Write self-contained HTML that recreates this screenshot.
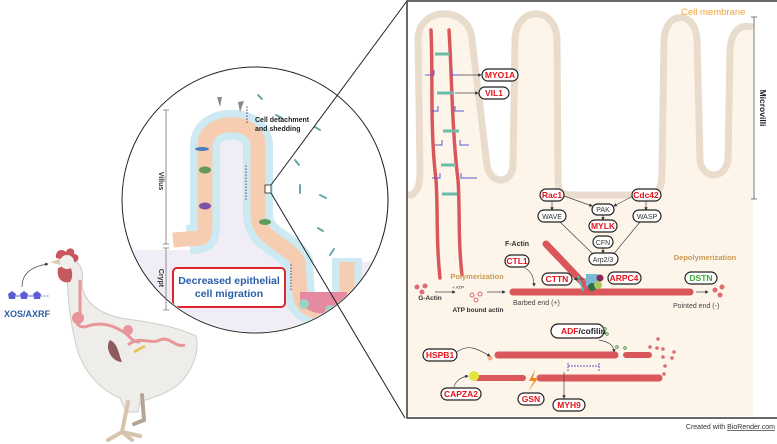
<!DOCTYPE html>
<html><head><meta charset="utf-8"><style>
html,body{margin:0;padding:0;background:#fff;}
svg{display:block;font-family:"Liberation Sans",sans-serif;}
.pill{fill:#fff;stroke:#222;stroke-width:1.2;}
.rt{fill:#e8121b;font-weight:bold;font-size:8.5px;text-anchor:middle;}
.gt{fill:#333;font-size:7px;text-anchor:middle;}
.fil{stroke:#d9575b;stroke-linecap:round;fill:none;}
.ar{stroke:#444;stroke-width:0.7;fill:none;marker-end:url(#ah);}
</style></head><body>
<svg width="777" height="444" viewBox="0 0 777 444">
<defs>
<marker id="ah" markerWidth="5" markerHeight="5" refX="4" refY="2.5" orient="auto"><path d="M0,0L5,2.5L0,5z" fill="#333"/></marker>
</defs>
<!-- chicken -->
<path d="M68,262 C80,258 84,270 82,285 C84,300 95,312 120,318 C150,322 175,326 196,336 C200,352 192,372 178,385 C165,395 150,398 140,402 L138,412 L126,412 L120,398 C100,390 82,370 76,345 C70,320 66,290 68,262 Z" fill="#eeede9" stroke="#cfcdc8" stroke-width="1"/>
<path d="M128,402 L122,432 L108,440 M122,432 L132,440 M122,432 L140,436" stroke="#d8c3ad" stroke-width="4" fill="none" stroke-linecap="round"/>
<path d="M142,395 L144,420 L134,424" stroke="#b5a597" stroke-width="4" fill="none" stroke-linecap="round"/>
<path d="M56,258 C55,250 62,248 66,252 C68,246 76,248 74,254 C80,254 80,262 74,262 Z" fill="#c9565a"/>
<path d="M58,268 C56,278 62,284 70,282 C74,276 72,268 68,264 Z" fill="#c45a5e"/>
<circle cx="67" cy="262" r="7" fill="#f0efec"/>
<path d="M50,262 L60,259 L60,265 Z" fill="#e0cbb0"/>
<path d="M80,280 L80,312 C72,320 78,330 88,326 C100,322 112,325 120,330 C130,334 130,342 140,342" stroke="#e8969a" stroke-width="3" fill="none"/>
<circle cx="78" cy="318" r="6" fill="#e8969a"/>
<circle cx="128" cy="330" r="5" fill="#e8969a"/>
<path d="M110,340 C104,348 112,362 122,362 C118,352 118,344 110,340 Z" fill="#8e5a5e"/>
<path d="M128,345 C140,335 150,345 160,340 C170,336 175,348 185,345" stroke="#e8969a" stroke-width="3" fill="none"/>
<path d="M134,352 L145,346" stroke="#e8c050" stroke-width="2.5"/>
<!-- XOS -->
<g fill="#5b5bd6">
<path d="M8,294 L12,291 L16,294 L15,299 L9,299Z"/><path d="M20,294 L24,291 L28,294 L27,299 L21,299Z"/><path d="M33,294 L37,291 L41,294 L40,299 L34,299Z"/>
</g>
<path d="M16,296 L20,296 M28,296 L33,296" stroke="#5b5bd6"/>
<path d="M41,296 L50,296" stroke="#5b5bd6" stroke-dasharray="1.5,1.5"/>
<text x="4" y="317" font-size="9" font-weight="bold" fill="#2b5ea8">XOS/AXRF</text>
<path d="M22,287 C22,272 34,266 48,264" class="ar"/>
<!-- circle -->
<circle cx="255" cy="200" r="133" fill="#fff" stroke="#222" stroke-width="1"/>
<clipPath id="cc"><circle cx="255" cy="200" r="132"/></clipPath>
<g clip-path="url(#cc)">
<path d="M120,246 L198,246 L198,145 C198,110 265,110 265,145 L265,215 C265,235 290,245 298,262 L300,295 C302,318 345,318 347,295 L347,262 L390,262 L390,340 L120,340 Z" fill="#f1edf7"/>
<path d="M188,240 L200,238 Q205,238 205,225 L205,145 C205,118 258,118 258,145 L258,215 C258,240 290,245 298,262 L300,295 C302,318 345,318 347,295 L347,258" fill="none" stroke="#cdeaf3" stroke-width="30"/>
<path d="M120,238 L190,238 L190,258 L120,258 Z" fill="#fff"/>
<path d="M120,250 L190,250 L190,340 L120,340 Z" fill="#f1edf7"/>
<path d="M173,240 L200,238 Q205,238 205,225 L205,145 C205,118 258,118 258,145 L258,215 C258,240 290,245 298,262 L300,295 C302,318 345,318 347,295 L347,262" fill="none" stroke="#f6cdb0" stroke-width="15"/>
<path d="M300,300 C305,318 342,318 347,300 L347,292 L300,292 Z" fill="#e58aa0"/>
<circle cx="304" cy="304" r="5" fill="#9ad3c3"/><circle cx="330" cy="310" r="5" fill="#9ad3c3"/>
<ellipse cx="205" cy="170" rx="6" ry="3.5" fill="#5e9c5e"/>
<ellipse cx="205" cy="206" rx="6" ry="3.5" fill="#7b55a8"/>
<ellipse cx="202" cy="149" rx="7" ry="2" fill="#4a7cc0"/>
<ellipse cx="265" cy="222" rx="6" ry="3" fill="#5e9c5e"/>
<path d="M217,97 L222,97 L220,107 Z M238,102 L244,101 L240,112 Z" fill="#8a8a8a"/>
<path d="M247,123 L247,106" stroke="#7b2c6a" stroke-dasharray="1.5,1.5"/>
<path d="M246,200 L246,165" stroke="#7b2c6a" stroke-dasharray="1.5,1.5"/>
<path d="M291,290 L291,263" stroke="#7b2c6a" stroke-dasharray="1.5,1.5"/>
<g stroke="#6aa8a8" stroke-width="2" stroke-linecap="round">
<path d="M276,115 l6,3"/><path d="M315,127 l5,3"/><path d="M295,160 l4,5"/><path d="M320,195 l6,3"/><path d="M300,185 l0,8"/><path d="M318,228 l5,3"/><path d="M330,255 l4,-6"/><path d="M258,95 l4,4"/>
</g>
<rect x="173" y="268" width="112" height="39" rx="4" fill="#fff" stroke="#e0262a" stroke-width="2"/>
<text x="229" y="284" font-size="10.5" font-weight="bold" fill="#2b5ea8" text-anchor="middle">Decreased  epithelial</text>
<text x="229" y="297" font-size="10.5" font-weight="bold" fill="#2b5ea8" text-anchor="middle">cell migration</text>
</g>
<text x="255" y="122" font-size="7" font-weight="bold" fill="#222">Cell detachment</text>
<text x="255" y="131" font-size="7" font-weight="bold" fill="#222">and shedding</text>
<path d="M166,110 L166,244 M163,110 L169,110 M163,244 L169,244 M166,248 L166,310 M163,248 L169,248 M163,310 L169,310" stroke="#777" stroke-width="0.8"/>
<text transform="translate(159,181) rotate(90)" font-size="7" font-weight="bold" fill="#333" text-anchor="middle">Villus</text>
<text transform="translate(159,278) rotate(90)" font-size="7" font-weight="bold" fill="#333" text-anchor="middle">Crypt</text>
<rect x="265" y="185" width="6" height="8" fill="#fff" stroke="#222" stroke-width="0.8"/>
<path d="M271,185 L407,1 M271,193 L405,418" stroke="#222" stroke-width="1"/>
<!-- right panel -->
<rect x="407" y="1" width="372" height="417" fill="#fff" stroke="#444" stroke-width="1.6"/>
<path d="M408,418 L408,195 L412,195 C418,190 420,185 420,170 L418,40 C418,5 470,5 472,40 L487,165 C490,185 512,185 513,165 L515,40 C516,5 556,5 557,40 L558,175 C558,195 560,195 580,195 L640,195 C660,195 662,190 662,170 L664,40 C665,10 696,10 697,40 L700,160 C702,180 725,180 728,160 L730,50 C732,25 745,25 753,27 L753,416 L408,416 Z" fill="#fdf5ea"/>
<path d="M408,195 L412,195 C418,190 420,185 420,170 L418,40 C418,5 470,5 472,40 L487,165 C490,185 512,185 513,165 L515,40 C516,5 556,5 557,40 L558,175 C558,195 560,195 580,195 L640,195 C660,195 662,190 662,170 L664,40 C665,10 696,10 697,40 L700,160 C702,180 725,180 728,160 L730,50 C732,25 745,25 753,27" fill="none" stroke="#eadccc" stroke-width="7"/>
<text x="681" y="15" font-size="9.5" fill="#f0a33a">Cell  membrane</text>
<path d="M754,17 L754,199 M751,17 L757,17 M751,199 L757,199" stroke="#555" stroke-width="0.8"/>
<text transform="translate(760,108) rotate(90)" font-size="8.5" font-weight="bold" fill="#222" text-anchor="middle">Microvilli</text>
<!-- microvillus actin -->
<path d="M431,30 C433,80 430,130 436,180 C438,210 436,240 440,278" class="fil" stroke-width="3.5" stroke-dasharray="2,0.8"/>
<path d="M449,30 C452,80 452,130 458,180 C460,210 458,240 462,275" class="fil" stroke-width="3.5" stroke-dasharray="2,0.8"/>
<g stroke="#6cbcaa" stroke-width="3"><path d="M435,54 L450,54"/><path d="M437,93 L454,93"/><path d="M443,131 L459,131"/><path d="M441,165 L456,165"/><path d="M442,194 L457,194"/></g>
<g stroke="#5a5ad0" stroke-width="1" fill="none"><path d="M425,75 L434,75 L434,70"/><path d="M452,70 L452,75 L460,75"/><path d="M432,111 L438,111 L438,106"/><path d="M455,106 L455,111 L464,111"/><path d="M435,145 L442,145 L442,140"/><path d="M460,140 L460,145 L469,145"/><path d="M432,178 L440,178 L440,173"/><path d="M461,173 L461,178 L477,178"/></g>
<path d="M460,75 L481,75" class="ar"/><path d="M455,93 L478,93" class="ar"/>
<rect x="482" y="69" width="36" height="12" rx="6" class="pill"/><text x="500" y="78" class="rt">MYO1A</text>
<rect x="479" y="87" width="30" height="12" rx="6" class="pill"/><text x="494" y="96" class="rt">VIL1</text>
<!-- signaling -->
<path d="M552,201 L552,210" class="ar"/><path d="M646,201 L646,210" class="ar"/>
<path d="M564,196 L592,206" class="ar"/><path d="M633,196 L614,206" class="ar"/>
<path d="M603,215 L603,220" class="ar"/>
<path d="M560,222 L595,256" class="ar"/><path d="M640,222 L612,256" class="ar"/>
<path d="M603,248 L603,253" class="ar"/>
<rect x="540" y="189" width="24" height="12" rx="6" class="pill"/><text x="552" y="198" class="rt">Rac1</text>
<rect x="632" y="189" width="29" height="12" rx="6" class="pill"/><text x="646" y="198" class="rt">Cdc42</text>
<rect x="592" y="204" width="22" height="11" rx="5.5" class="pill"/><text x="603" y="212" class="gt">PAK</text>
<rect x="538" y="210" width="28" height="12" rx="6" class="pill"/><text x="552" y="219" class="gt">WAVE</text>
<rect x="633" y="210" width="28" height="12" rx="6" class="pill"/><text x="647" y="219" class="gt">WASP</text>
<rect x="589" y="220" width="28" height="12" rx="6" class="pill"/><text x="603" y="229" class="rt">MYLK</text>
<rect x="593" y="236" width="20" height="12" rx="6" class="pill"/><text x="603" y="245" class="gt">CFN</text>
<rect x="589" y="253" width="29" height="12" rx="6" class="pill"/><text x="603" y="262" class="gt">Arp2/3</text>
<text x="517" y="246" font-size="7" font-weight="bold" fill="#333" text-anchor="middle">F-Actin</text>
<path d="M546,244 L588,288" class="fil" stroke-width="7" stroke-dasharray="3,1"/>
<path d="M513,292 L690,292" class="fil" stroke-width="7" stroke-dasharray="3,1"/>
<rect x="586" y="274" width="12" height="12" fill="#7ab8d6"/><circle cx="592" cy="287" r="4" fill="#2f6e4f"/><circle cx="598" cy="285" r="4" fill="#a8c85a"/><circle cx="600" cy="278" r="3.5" fill="#8a2a5a"/>
<path d="M578,276 L583,291" stroke="#3fd0d0" stroke-width="1.5"/>
<rect x="505" y="255" width="24" height="12" rx="6" class="pill"/><text x="517" y="264" class="rt">CTL1</text>
<path d="M525,268 C532,272 534,278 534,286" class="ar"/>
<rect x="542" y="273" width="30" height="12" rx="6" class="pill"/><text x="557" y="282" class="rt">CTTN</text>
<path d="M586,279 L574,279" class="ar"/>
<rect x="608" y="272" width="33" height="12" rx="6" class="pill"/><text x="624" y="281" class="rt">ARPC4</text>
<text x="477" y="279" font-size="7.5" font-weight="bold" fill="#c89a55" text-anchor="middle">Polymerization</text>
<text x="705" y="260" font-size="7.5" font-weight="bold" fill="#c89a55" text-anchor="middle">Depolymerization</text>
<rect x="685" y="272" width="32" height="12" rx="6" class="pill"/><text x="701" y="281" font-size="8.5" font-weight="bold" fill="#3aa83a" text-anchor="middle">DSTN</text>
<g fill="#e06b70"><circle cx="417" cy="287" r="2.5"/><circle cx="425" cy="286" r="2.5"/><circle cx="422" cy="292" r="2.5"/><circle cx="715" cy="290" r="2.5"/><circle cx="722" cy="287" r="2.5"/><circle cx="720" cy="295" r="2.5"/></g>
<g fill="none" stroke="#e06b70"><circle cx="472" cy="295" r="2"/><circle cx="480" cy="294" r="2"/><circle cx="476" cy="300" r="2"/></g>
<path d="M435,292 L455,292" class="ar"/><path d="M487,292 L505,292" class="ar"/><path d="M696,292 L708,292" class="ar"/>
<text x="452" y="289" font-size="4.5" fill="#333">+ ATP</text>
<text x="430" y="300" font-size="6.5" font-weight="bold" fill="#333" text-anchor="middle">G-Actin</text>
<text x="478" y="312" font-size="6.5" font-weight="bold" fill="#333" text-anchor="middle">ATP bound actin</text>
<text x="513" y="305" font-size="7" fill="#444">Barbed end (+)</text>
<text x="673" y="308" font-size="7" fill="#444">Pointed end (-)</text>
<!-- bottom -->
<rect x="551" y="324" width="53" height="14" rx="7" class="pill"/>
<text x="561" y="334" font-size="8.5" font-weight="bold" fill="#e8121b">ADF<tspan fill="#222">/cofilin</tspan></text>
<path d="M599,340 C610,342 614,346 614,352" class="ar"/>
<g fill="none" stroke="#3a8a3a" stroke-width="0.8"><circle cx="605" cy="329" r="1.3"/><circle cx="607" cy="334" r="1.3"/><circle cx="617" cy="347" r="1.3"/><circle cx="625" cy="348" r="1.3"/></g>
<path d="M498,355 L615,355" class="fil" stroke-width="7" stroke-dasharray="3,1"/>
<path d="M626,355 L650,355" class="fil" stroke-width="6" stroke-dasharray="3,1"/>
<g fill="#e06b70"><circle cx="658" cy="339" r="1.8"/><circle cx="650" cy="347" r="1.8"/><circle cx="657" cy="348" r="1.8"/><circle cx="663" cy="349" r="1.8"/><circle cx="663" cy="357" r="1.8"/><circle cx="672" cy="358" r="1.8"/><circle cx="665" cy="366" r="1.8"/><circle cx="664" cy="374" r="1.8"/><circle cx="674" cy="352" r="1.8"/></g>
<path d="M478,378 L523,378" class="fil" stroke-width="6" stroke-dasharray="3,1"/>
<path d="M540,378 L660,378" class="fil" stroke-width="7" stroke-dasharray="3,1"/>
<circle cx="474" cy="376" r="5" fill="#e0e63a"/>
<circle cx="490" cy="358" r="2.5" fill="#f0b08a"/>
<path d="M568,366 L599,366 M568,363 L568,372 M599,363 L599,372" stroke="#5a5ad0" stroke-width="1" stroke-dasharray="2,1"/>
<path d="M564,372 L564,398" class="ar"/>
<path d="M535,370 L529,381 L534,381 L528,392 L538,378 L533,378 Z" fill="#f08a20"/>
<rect x="423" y="349" width="34" height="12" rx="6" class="pill"/><text x="440" y="358" class="rt">HSPB1</text>
<path d="M457,352 C468,344 476,348 490,356" class="ar"/>
<rect x="441" y="388" width="40" height="12" rx="6" class="pill"/><text x="461" y="397" class="rt">CAPZA2</text>
<path d="M454,387 C456,380 462,377 468,376" class="ar"/>
<rect x="518" y="393" width="26" height="12" rx="6" class="pill"/><text x="531" y="402" class="rt">GSN</text>
<rect x="553" y="399" width="32" height="12" rx="6" class="pill"/><text x="569" y="408" class="rt">MYH9</text>
<text x="775" y="429" font-size="7" fill="#333" text-anchor="end">Created with <tspan text-decoration="underline">BioRender.com</tspan></text>
</svg>
</body></html>
